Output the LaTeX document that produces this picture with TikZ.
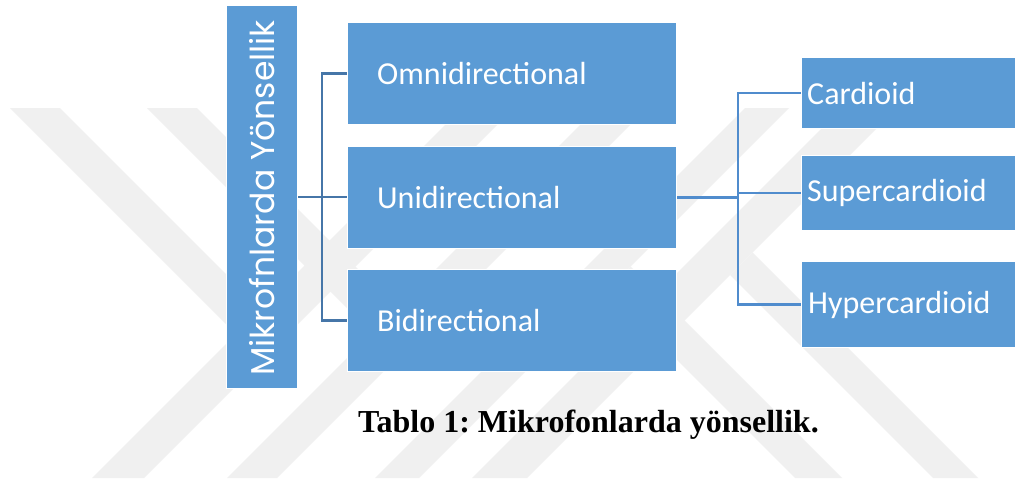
\documentclass[tikz,border=0pt]{standalone}
\usepackage{fontspec}
\setmainfont{Liberation Serif}
\newfontfamily\calibri{Carlito}
\newfontfamily\gothic{Poppins}
\definecolor{boxblue}{HTML}{5B9BD5}
\definecolor{lline}{HTML}{4676A8}
\definecolor{rline}{HTML}{508CCD}
\definecolor{wmgray}{HTML}{F0F0F0}
\frenchspacing
\begin{document}
\begin{tikzpicture}[x=1pt,y=-1pt,
  box/.style={rectangle, fill=boxblue, draw=white, line width=1.2pt, anchor=north west, inner sep=0pt},
  lbl/.style={anchor=west, inner sep=0pt, text=white, font=\calibri\fontsize{32}{38}\selectfont},
  lconn/.style={draw=lline, line width=2.6pt},
  rconn/.style={draw=rline, line width=2.6pt},
  wmband/.style={fill=wmgray}]
\clip (0,0) rectangle (1015,482);
\fill[white] (0,0) rectangle (1015,482);
% watermark
\fill[wmband] (462,108) -- (514,108) -- (144,478) -- (92,478) -- cycle;
\fill[wmband] (597,108) -- (647,108) -- (277,478) -- (227,478) -- cycle;
\fill[wmband] (745,108) -- (789,108) -- (419,478) -- (375,478) -- cycle;
\fill[wmband] (842,108) -- (897,108) -- (527,478) -- (472,478) -- cycle;
\fill[wmband] (10,108) -- (60,108) -- (261,309) -- (236,334) -- cycle;
\fill[wmband] (147,108) -- (197,108) -- (397,308) -- (372,333) -- cycle;
\fill[wmband] (630.5,266.5) -- (842,478) -- (795,478) -- (607,290) -- cycle;
\fill[wmband] (752.5,252.5) -- (978,478) -- (933,478) -- (730,275) -- cycle;
% boxes
\node[box, minimum width=71pt, minimum height=383pt] (root) at (226,5) {};
\node[box, minimum width=329pt, minimum height=102pt] (omni) at (347,22) {};
\node[box, minimum width=329pt, minimum height=102pt] (uni) at (347,146) {};
\node[box, minimum width=329pt, minimum height=102pt] (bidi) at (347,269) {};
\node[box, minimum width=230pt, minimum height=71pt] (card) at (801,57) {};
\node[box, minimum width=230pt, minimum height=75pt] (super) at (801,155) {};
\node[box, minimum width=230pt, minimum height=86pt] (hyper) at (801,261) {};
% labels
\node[anchor=base west, rotate=90, inner sep=0pt, text=white, font=\gothic\fontsize{33}{40}\selectfont] (roott) at (274,376) {Mikrofnlarda Yönsellik};
\node[lbl] (omnit) at ([xshift=30pt]omni.west) {Omnidirectional};
\node[lbl] (unit) at ([xshift=30pt]uni.west) {Unidirectional};
\node[lbl] (bidit) at ([xshift=30pt]bidi.west) {Bidirectional};
\node[lbl] (cardt) at ([xshift=6pt]card.west) {Cardioid};
\node[lbl] (supert) at ([xshift=6pt]super.west) {Supercardioid};
\node[lbl] (hypert) at ([xshift=7pt]hyper.west) {Hypercardioid};
% connectors
\coordinate (lj) at (322,196);
\draw[lconn] (root.east) -- (root.east -| uni.west);
\draw[lconn] (omni.west) -| (lj) |- (bidi.west);
\coordinate (rj) at (738,196);
\draw[rconn, line width=3pt] (uni.east) -- (uni.east -| rj);
\draw[rconn] (card.west) -| (rj) |- (hyper.west);
\draw[rconn] (super.west -| rj) -- (super.west);
% caption
\node[anchor=base, inner sep=0pt, font=\bfseries\fontsize{32}{38}\selectfont] (cap) at (588.5,432) {Tablo 1: Mikrofonlarda yönsellik.};
\end{tikzpicture}
\end{document}
